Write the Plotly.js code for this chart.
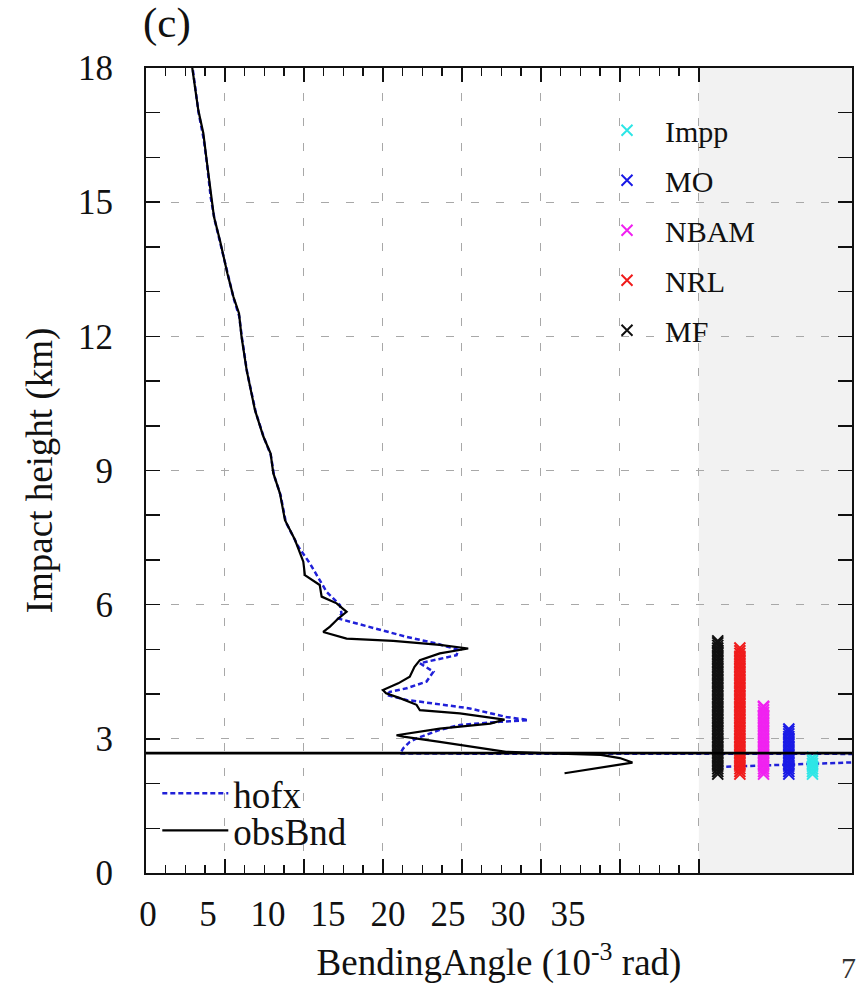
<!DOCTYPE html>
<html>
<head>
<meta charset="utf-8">
<script src="https://cdn.plot.ly/plotly-3.0.1.min.js"></script>
<style>html,body{margin:0;padding:0;background:#fff;}#chart{width:858px;height:994px;}</style>
</head>
<body>
<div id="chart"></div>
<script>
// ---- data ----
const obsX = [2.75,2.93,3.31,3.63,3.84,4.09,4.30,4.68,5.15,5.53,5.89,6.05,6.37,6.90,7.43,7.89,8.06,8.48,8.80,9.43,9.96,10.06,11.0,11.12,12.07,12.7,12.17,11.65,11.22,12.7,15.65,18.6,20.4,18.6,17.34,17.0,16.7,15.97,15.0,15.2,16.08,17.13,17.34,19.87,22.7,21.8,18.6,15.86,16.29,18.6,20.7,22.8,26.2,28.8,30.0,30.8,26.5];
const obsY = [18.3,18.0,17.06,16.54,15.94,15.20,14.68,14.15,13.41,12.89,12.51,11.99,11.25,10.35,9.76,9.38,8.94,8.49,7.89,7.45,6.96,6.66,6.44,6.18,6.03,5.84,5.69,5.51,5.39,5.24,5.19,5.10,5.02,4.91,4.76,4.61,4.39,4.24,4.09,4.02,3.91,3.76,3.64,3.57,3.43,3.34,3.23,3.08,3.05,2.93,2.82,2.71,2.67,2.64,2.57,2.47,2.23];

const hofxX = [2.77,2.95,3.33,3.66,3.88,4.10,4.35,4.72,5.18,5.55,5.90,6.08,6.40,6.95,7.45,7.90,8.10,8.52,8.85,9.64,10.38,11.43,12.28,12.38,12.17,14.4,16.5,18.4,19.77,19.66,18.2,17.34,18.2,17.76,16.5,15.44,15.23,16.5,18.2,20.5,22.8,24.2,22.4,19.87,18.6,17.13,16.7,16.29,16.08,60.0,36.3];
const hofxY = [18.3,18.0,17.0,16.4,15.8,15.1,14.6,14.05,13.35,12.85,12.45,11.95,11.2,10.3,9.75,9.35,8.9,8.45,7.85,7.30,6.92,6.29,5.99,5.80,5.69,5.47,5.28,5.13,4.99,4.87,4.76,4.69,4.50,4.28,4.13,4.05,3.98,3.87,3.79,3.68,3.49,3.42,3.38,3.31,3.20,3.01,2.93,2.79,2.67,2.66,2.37];

const cutoffHeight = [2.68];
const shadeFrom = [35];

const centreNames = ['Impp','MO','NBAM','NRL','MF'];
const centreX = [42.2, 40.7, 39.1, 37.6, 36.2];
const imppY = [2.21,2.27,2.33,2.39,2.45,2.51,2.57,2.59];
const moY = [2.21,2.27,2.33,2.39,2.45,2.51,2.57,2.63,2.69,2.75,2.81,2.87,2.93,2.99,3.05,3.11,3.17,3.22];
const nbamY = [2.21,2.27,2.33,2.39,2.45,2.51,2.57,2.63,2.69,2.75,2.81,2.87,2.93,2.99,3.05,3.11,3.17,3.23,3.29,3.35,3.41,3.47,3.53,3.59,3.65,3.71,3.73];
const nrlY = [2.21,2.27,2.33,2.39,2.45,2.51,2.57,2.63,2.69,2.75,2.81,2.87,2.93,2.99,3.05,3.11,3.17,3.23,3.29,3.35,3.41,3.47,3.53,3.59,3.65,3.71,3.77,3.83,3.89,3.95,4.01,4.07,4.13,4.19,4.25,4.31,4.37,4.43,4.49,4.55,4.61,4.67,4.73,4.79,4.85,4.91,4.97,5.03];
const mfY = [2.21,2.27,2.33,2.39,2.45,2.51,2.57,2.63,2.69,2.75,2.81,2.87,2.93,2.99,3.05,3.11,3.17,3.23,3.29,3.35,3.41,3.47,3.53,3.59,3.65,3.71,3.77,3.83,3.89,3.95,4.01,4.07,4.13,4.19,4.25,4.31,4.37,4.43,4.49,4.55,4.61,4.67,4.73,4.79,4.85,4.91,4.97,5.03,5.09,5.15,5.19];
const centreY = [imppY, moY, nbamY, nrlY, mfY];
const centreColors = ['#2ee6e6','#1a1ae6','#f022f0','#f01c1c','#111111'];

const xTickVals = [0,5,10,15,20,25,30,35];
const xTickText = ['0','5','10','15','20','25','30','35'];
const yTickVals = [0,3,6,9,12,15,18];
// ---------------------------------------

const serif = '"Liberation Serif", "Times New Roman", Times, serif';

const traces = [];
traces.push({
  x: hofxX, y: hofxY, type: 'scatter', mode: 'lines', name: 'hofx',
  line: {color: '#2020d8', width: 2.5, dash: '5px,3px'},
  legend: 'legend2'
});
traces.push({
  x: obsX, y: obsY, type: 'scatter', mode: 'lines', name: 'obsBnd',
  line: {color: '#000000', width: 2.2},
  legend: 'legend3'
});
centreNames.forEach((n, i) => {
  traces.push({
    x: centreY[i].map(() => centreX[i]), y: centreY[i],
    type: 'scatter', mode: 'markers', name: n, legendgroup: n,
    marker: {symbol: 'x-thin-open', size: 11, color: centreColors[i], line: {color: centreColors[i], width: 2}},
    legend: 'legend'
  });
});
// label-only axis for the bottom tick numbers
traces.push({x: [], y: [], xaxis: 'x2', yaxis: 'y', type: 'scatter', mode: 'lines', showlegend: false, hoverinfo: 'skip'});

const minorX = [];
for (let v = 1.25; v < 35; v += 1.25) { if (Math.abs(v / 5 - Math.round(v / 5)) > 1e-6) minorX.push(v); }

const layout = {
  width: 858, height: 994,
  margin: {l: 146, r: 6, t: 68, b: 121},
  paper_bgcolor: '#ffffff', plot_bgcolor: '#ffffff',
  font: {family: serif, color: '#111111', size: 30},
  title: {text: '(c)', x: 143/858, xanchor: 'left', xref: 'container', y: 0.978, yanchor: 'middle', yref: 'container', font: {family: serif, size: 43, color: '#111'}},
  xaxis: {
    range: [0, 44.7], tickvals: xTickVals, showticklabels: false,
    ticks: 'inside', ticklen: 14, tickwidth: 1.5, tickcolor: '#111',
    showline: true, linecolor: '#111', linewidth: 2, mirror: 'allticks',
    showgrid: true, gridcolor: '#a8a8a8', gridwidth: 1, griddash: '8px,17px',
    zeroline: false,
    minor: {tickvals: minorX, ticks: 'inside', ticklen: 8, tickwidth: 1.5, tickcolor: '#111', showgrid: false}
  },
  xaxis2: {
    overlaying: 'x', anchor: 'y', side: 'bottom',
    range: [-0.17, 58.67], tickvals: xTickVals, ticktext: xTickText,
    showline: false, showgrid: false, zeroline: false, ticks: '',
    ticklabelstandoff: 17,
    tickfont: {family: serif, size: 35, color: '#111'},
    title: {text: 'BendingAngle (10<sup>-3</sup> rad)', font: {family: serif, size: 37, color: '#111'}, standoff: 16}
  },
  yaxis: {
    range: [0, 18], tickvals: yTickVals,
    ticks: 'inside', ticklen: 14, tickwidth: 1.5, tickcolor: '#111',
    showline: true, linecolor: '#111', linewidth: 2, mirror: 'allticks',
    showgrid: true, gridcolor: '#a8a8a8', gridwidth: 1, griddash: '8px,17px',
    zeroline: false,
    minor: {dtick: 1, ticks: 'inside', ticklen: 8, tickwidth: 1.5, tickcolor: '#111', showgrid: false},
    ticklabelstandoff: 24,
    tickfont: {family: serif, size: 35, color: '#111'},
    title: {text: 'Impact height (km)', font: {family: serif, size: 37, color: '#111'}, standoff: 14}
  },
  shapes: [
    {type: 'rect', xref: 'x', yref: 'paper', x0: shadeFrom[0], x1: 44.7, y0: 0, y1: 1, fillcolor: '#f2f2f2', line: {width: 0}, layer: 'below'},
    {type: 'line', xref: 'paper', yref: 'y', x0: 0, x1: 1, y0: cutoffHeight[0], y1: cutoffHeight[0], line: {color: '#000', width: 2.6}, layer: 'above'}
  ],
  legend: {
    x: 0.6275, y: 0.955, xanchor: 'left', yanchor: 'top',
    bgcolor: 'rgba(0,0,0,0)', borderwidth: 0,
    font: {family: serif, size: 30, color: '#111'},
    tracegroupgap: 8, itemwidth: 66
  },
  legend2: {
    x: 0.016, y: 0.137, xanchor: 'left', yanchor: 'top',
    bgcolor: 'rgba(0,0,0,0)', borderwidth: 0,
    font: {family: serif, size: 37, color: '#111'},
    itemwidth: 66
  },
  legend3: {
    x: 0.016, y: 0.091, xanchor: 'left', yanchor: 'top',
    bgcolor: 'rgba(0,0,0,0)', borderwidth: 0,
    font: {family: serif, size: 37, color: '#111'},
    itemwidth: 66
  },
  annotations: [
    {text: '7', xref: 'paper', yref: 'paper', x: 1.0085, y: -0.118, xanchor: 'right', yanchor: 'middle', showarrow: false, font: {family: serif, size: 30, color: '#333'}}
  ]
};

Plotly.newPlot('chart', traces, layout, {displayModeBar: false, staticPlot: true});
</script>
</body>
</html>
